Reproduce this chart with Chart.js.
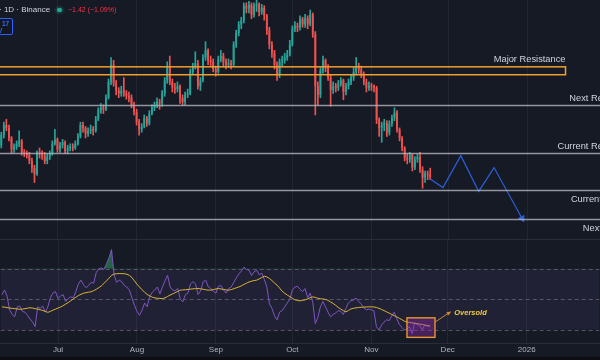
<!DOCTYPE html>
<html>
<head>
<meta charset="utf-8">
<script src="https://cdn.jsdelivr.net/npm/chart.js@4.4.1/dist/chart.umd.min.js"></script>
<style>
  html, body { margin: 0; padding: 0; background: #161a25; }
  #wrap { position: relative; width: 600px; height: 360px; overflow: hidden; background: #161a25;
          font-family: "Liberation Sans", Arial, sans-serif; }
  #priceCanvas { position: absolute; left: 0; top: 0; }
  #rsiCanvas { position: absolute; left: 0; top: 240px; }
  .sep { position: absolute; left: 0; top: 239px; width: 600px; height: 1px; background: #2a2e39; }
  .foot { position: absolute; left: 0; top: 357px; width: 600px; height: 3px; background: #0b0d12; }
  .hdr { position: absolute; left: -1px; top: 5px; font-size: 8px; color: #d1d4dc; white-space: nowrap; }
  .dot { position: absolute; left: 57px; top: 7.5px; width: 4.5px; height: 4.5px; border-radius: 50%;
         background: #22ab94; box-shadow: 0 0 3px 1px rgba(34,171,148,0.45); }
  .chg { position: absolute; left: 68px; top: 6px; font-size: 7px; color: #f23645; white-space: nowrap; }
  .tag { position: absolute; left: -2px; top: 18px; width: 13px; height: 15px; border: 1px solid #2962ff;
         border-radius: 2px; background: #131722; }
  .tag span { position: absolute; font-size: 6.5px; font-weight: bold; color: #2f6bff; }
</style>
</head>
<body>
<div id="wrap">
  <canvas id="priceCanvas" width="600" height="240"></canvas>
  <canvas id="rsiCanvas" width="600" height="120"></canvas>
  <div class="sep"></div>
  <div class="foot"></div>
  <div class="hdr">· 1D · Binance</div>
  <div class="dot"></div>
  <div class="chg">−1.42 (−1.09%)</div>
  <div class="tag"><span style="left:3px;top:1px">17</span><span style="left:-1px;top:8px">V</span></div>
</div>
<script>
// daily candles, SOL/USDT 1D, 2025-06-09 .. 2025-11-24
const dayCount = 235;
const labels = [];
for (let i = 0; i < dayCount; i++) {
    labels.push(new Date(Date.UTC(2025, 5, 9 + i)).toISOString().slice(0, 10));
}

const tickDates = ['2025-07-01', '2025-08-01', '2025-09-01', '2025-10-01', '2025-11-01', '2025-12-01', '2026-01-01'];
const tickLabels = ['Jul', 'Aug', 'Sep', 'Oct', 'Nov', 'Dec', '2026'];

const firstOpen = 152;
const closes = [
    159, 166, 164, 157, 149, 151, 153, 155, 147, 146,
    145, 141, 136, 132, 147, 146, 145, 141, 144, 146,
    153, 156, 149, 152, 154, 148, 150, 151, 150, 153,
    158, 166, 164, 160, 162, 163, 162, 170, 176, 178,
    177, 185, 196, 208, 195, 190, 188, 190, 188, 186,
    185, 180, 175, 168, 163, 165, 171, 167, 174, 178,
    180, 182, 181, 188, 197, 207, 196, 192, 191, 193,
    185, 182, 187, 188, 203, 207, 209, 193, 197, 213,
    218, 211, 210, 205, 203, 212, 214, 210, 208, 209,
    208, 222, 230, 236, 239, 249, 247, 249.5, 242.6, 249,
    250, 244.7, 247.5, 242, 232, 222, 216, 208, 201, 210,
    211, 213, 215, 222, 233, 235, 234, 240, 236, 240.5,
    236, 243, 229, 193, 187, 204, 211, 206, 199, 190.5,
    193, 192, 194.7, 197, 189, 193, 196, 199, 203, 206.5,
    204.4, 201, 196, 192, 193.3, 192.6, 192, 169.7, 164, 166,
    167.6, 160.7, 167, 171, 174.6, 162.8, 157, 150, 143, 142,
    145.4, 136.4, 142, 144, 135, 129.5, 132.2, 131.5, 130
];
const highs = [
    161, 168, 170, 166, 158, 153, 155, 162, 156, 149,
    148, 147, 143, 138, 148, 150, 148, 147, 146, 148,
    155, 163, 157, 154, 156, 155, 152, 153, 153, 155,
    160, 168, 168, 165, 164, 166, 165, 172, 178, 181,
    180, 187, 198, 213, 211, 197, 192, 193, 199, 190,
    189, 187, 182, 177, 170, 167, 173, 172, 176, 180,
    182, 185, 184, 190, 199, 210, 214, 198, 195, 196,
    194, 187, 189, 191, 205, 209, 217, 211, 199, 215,
    224, 219, 214, 212, 207, 214, 218, 216, 212, 212,
    211, 224, 232, 238, 241, 251, 251, 252, 251, 251,
    253, 251, 250, 249, 243, 234, 224, 218, 210, 212,
    214, 216, 218, 225, 235, 238, 237, 242, 241, 243,
    242, 246, 244, 231, 196, 206, 214, 212, 208, 201,
    196, 195, 197, 199, 198, 195, 198, 201, 206, 213,
    209, 207, 203, 198, 196, 195, 194, 193, 171, 168,
    170, 169, 169, 173, 178, 176, 164, 158, 151, 146,
    147, 146, 144, 146, 147, 137, 134, 134, 136
];
const lows = [
    150, 157, 162, 155, 146, 147, 149, 151, 145, 144,
    143, 139, 133, 126, 131, 143, 142, 139, 139, 142,
    145, 152, 147, 147, 150, 146, 146, 148, 148, 149,
    152, 157, 161, 157, 158, 160, 159, 161, 169, 174,
    174, 176, 184, 194, 193, 187, 185, 186, 186, 184,
    182, 178, 173, 166, 159, 161, 164, 165, 166, 173,
    176, 178, 177, 179, 186, 195, 194, 189, 188, 189,
    181, 180, 180, 185, 187, 201, 205, 191, 190, 196,
    211, 208, 207, 203, 200, 202, 210, 207, 205, 206,
    205, 207, 220, 228, 233, 237, 244, 244, 240, 241,
    245, 242, 243, 239, 229, 219, 213, 205, 197, 199,
    207, 209, 211, 214, 221, 231, 231, 232, 234, 234,
    233, 235, 227, 173, 180, 185, 202, 203, 197, 179,
    188, 189, 190, 193, 183.6, 187, 191, 194, 197, 201,
    202, 199, 194, 189, 190, 190, 189, 167, 158, 154,
    162, 158, 159, 165, 169, 161, 155, 148, 141, 139,
    140, 134, 135, 140, 133, 122, 126, 128, 128
];

const rsi = [
    53, 56, 52, 43, 40, 38.5, 45, 45.5, 42, 41.5,
    39.5, 37, 35, 32, 45, 44, 45.5, 41.5, 45, 51,
    54, 55, 50.5, 52, 53, 48.5, 50.5, 51.5, 51, 55,
    60, 62.5, 59.5, 57.5, 59, 61, 60.5, 67.5, 70, 70.5,
    69.5, 73, 77, 82.5, 66, 61, 62.5, 61.5, 59, 58,
    56, 51, 46, 42, 39.5, 43, 47.5, 45, 52, 54.5,
    56, 58, 53.5, 58, 62, 65.7, 58, 56, 55.5, 57,
    50, 48.3, 53, 54, 60, 61.5, 60, 53, 55.5, 61.5,
    62.5, 58, 57, 55, 54, 58.5, 59, 56, 54, 57,
    58, 61, 64, 66.5, 68.5, 71, 69.5, 69, 65.5, 68,
    69, 66, 67, 63, 58, 47, 44, 39, 36.5, 41.5,
    42.5, 45, 47.5, 50, 56, 58, 58.5, 56.5, 55, 57,
    51, 54, 48, 34, 38, 45, 48.5, 45, 41.5, 38.5,
    40, 41, 42.5, 42, 40, 44, 47.5, 49, 49.5, 50.8,
    48.5, 47, 44.5, 43, 43.5, 43, 42.5, 32, 29.8, 33,
    35, 36.5, 36, 39, 41.5, 37, 33.5, 31.5, 29.8, 30.5,
    32, 27.5, 34.5, 33.5, 32.5, 30, 33, 32.5, 32
];
const rsiMa = [
    45, 44.8, 44.5, 44.2, 44, 43.8, 43.6, 43.4, 43.5, 43.8,
    44.1, 44.4, 44.2, 43.8, 43.5, 43.1, 42.6, 42, 41.4, 42,
    42.8, 43.5, 44.2, 44.9, 45.8, 46.8, 47.8, 49, 50.2, 51.3,
    52.4, 53.2, 53.9, 54.3, 54.6, 54.9, 55.6, 56.5, 57.6, 58.7,
    60.3, 62, 63.8, 65.6, 66.5, 66.7, 66.8, 66.8, 66.7, 66.4,
    65.6, 64.2, 62, 59.8, 58, 56.2, 54.5, 53.1, 52.2, 51.3,
    50.9, 50.6, 50.5, 50.4, 50.9, 51.8, 52.7, 53.5, 54.3, 55.1,
    55.9, 56.1, 56.2, 56.4, 56.6, 56.8, 56.9, 57, 56.8, 56.5,
    56.2, 55.9, 56, 56.3, 56.7, 57, 56.7, 56.4, 56.1, 55.9,
    56.3, 56.9, 57.5, 58, 58.8, 59.7, 60.5, 61.3, 61.8, 62.2,
    62.5, 63.3, 64.2, 65.1, 64.6, 63.6, 62.2, 60.6, 59.2, 57.3,
    55.2, 53.9, 52.7, 51.7, 50.6, 49.6, 49.2, 48.9, 49.2, 49.6,
    50.2, 51, 51.5, 51.2, 50.6, 50.3, 50.1, 49.9, 49.2, 48.2,
    47.2, 46, 44.6, 43.5, 42.5, 41.7, 42.6, 43.6, 44.1, 44.3,
    44.6, 44.7, 44.8, 44.9, 45, 45, 44.9, 44.6, 44, 43.3,
    42.5, 41.7, 40.9, 40, 39.2, 38.4, 37.5, 36.6, 35.6, 35,
    34.8, 34.5, 34.2, 34, 33.7, 33.4, 33.1, 32.7, 32.5
];

// drawn projection path
const projDates = ['2025-11-24', '2025-11-29', '2025-12-06', '2025-12-13', '2025-12-19', '2025-12-30'];
const projValues = [128.5, 122.5, 144.7, 119.8, 136.4, 101];

// support / resistance levels
const majorZone = [201, 206.5];
const majorZoneEnd = '2026-01-16';
const levelNames = ['Next Resistance', 'Current Resistance', 'Current Support', 'Next Support'];
const levelValues = [180, 146.8, 120.5, 100.4];
const levelSides = ['above', 'above', 'below', 'below'];

// RSI guides and the oversold note
const rsiBand = [30, 70];
const rsiGuides = [70, 50, 30];
const oversoldFrom = '2025-11-15';
const oversoldTo = '2025-11-26';
const oversoldRange = [25, 37.8];
const noteArrow = [35, 41.6];
const noteDate = '2025-12-02';

const UP = '#26a69a';
const DOWN = '#ef5350';
const FONT = '"Liberation Sans", Arial, sans-serif';

const opens = closes.map((c, i) => (i === 0 ? firstOpen : closes[i - 1]));
const candleColors = closes.map((c, i) => (c >= opens[i] ? UP : DOWN));
const bodies = closes.map((c, i) => [opens[i], c]);
const wicks = closes.map((c, i) => [lows[i], highs[i]]);
const projection = projDates.map((d, i) => ({ x: d, y: projValues[i] }));

const monthGrid = c => (tickDates.includes(labels[c.index]) ? '#222633' : 'transparent');

const levelsPlugin = {
    id: 'levels',
    afterDatasetsDraw(chart) {
        const { ctx, chartArea: area, scales: { x, y } } = chart;
        const labelRight = x.getPixelForValue(dayCount + 14);
        ctx.save();
        ctx.font = `9.3px ${FONT}`;
        ctx.fillStyle = '#d1d4dc';
        ctx.textAlign = 'right';

        levelValues.forEach((v, k) => {
            const py = Math.round(y.getPixelForValue(v)) + 0.5;
            ctx.strokeStyle = 'rgba(178,181,190,0.8)';
            ctx.lineWidth = 1.3;
            ctx.beginPath();
            ctx.moveTo(area.left, py);
            ctx.lineTo(area.right, py);
            ctx.stroke();
            ctx.fillText(levelNames[k], labelRight, levelSides[k] === 'above' ? py - 5 : py + 11.5);
        });

        const zTop = y.getPixelForValue(majorZone[1]);
        const zBot = y.getPixelForValue(majorZone[0]);
        const zRight = x.getPixelForValue(labels.indexOf(majorZoneEnd));
        ctx.strokeStyle = '#f0a02e';
        ctx.lineWidth = 1.5;
        ctx.strokeRect(area.left - 3, zTop, zRight - area.left + 3, zBot - zTop);
        ctx.fillText('Major Resistance', zRight, zTop - 4.5);
        ctx.restore();
    }
};

new Chart(document.getElementById('priceCanvas'), {
    type: 'bar',
    data: {
        labels,
        datasets: [
            {
                label: 'Wicks', data: wicks, backgroundColor: candleColors,
                barThickness: 1, grouped: false, order: 2
            },
            {
                label: 'Bodies', data: bodies, backgroundColor: candleColors,
                barPercentage: 0.72, categoryPercentage: 1, grouped: false, order: 1
            },
            {
                type: 'line', label: 'Projection', data: projection,
                borderColor: '#2b5fd9', backgroundColor: '#2b5fd9', borderWidth: 1.2,
                pointRadius: c => (c.dataIndex === projValues.length - 1 ? 3.2 : 0),
                pointStyle: 'triangle', rotation: 151, order: 0
            }
        ]
    },
    options: {
        responsive: false,
        animation: false,
        devicePixelRatio: 1,
        events: [],
        layout: { padding: 0, autoPadding: false },
        plugins: { legend: { display: false }, tooltip: { enabled: false } },
        scales: {
            x: {
                offset: true,
                grid: { offset: false, color: monthGrid, drawTicks: false },
                border: { display: false },
                ticks: { display: false, autoSkip: false },
                afterFit: s => { s.height = 0; }
            },
            y: { display: false, min: 86, max: 253 }
        }
    },
    plugins: [levelsPlugin]
});

const rsiPlugin = {
    id: 'rsiGuides',
    beforeDatasetsDraw(chart) {
        const { ctx, chartArea: a, scales: { y } } = chart;
        const top = y.getPixelForValue(rsiBand[1]);
        const bot = y.getPixelForValue(rsiBand[0]);
        ctx.save();
        ctx.fillStyle = 'rgba(126,87,194,0.11)';
        ctx.fillRect(a.left, top, a.right - a.left, bot - top);
        ctx.strokeStyle = 'rgba(120,123,134,0.6)';
        ctx.lineWidth = 1;
        ctx.setLineDash([4, 3]);
        rsiGuides.forEach(v => {
            const py = Math.round(y.getPixelForValue(v)) + 0.5;
            ctx.beginPath();
            ctx.moveTo(a.left, py);
            ctx.lineTo(a.right, py);
            ctx.stroke();
        });
        ctx.restore();
    },
    afterDatasetsDraw(chart) {
        const { ctx, scales: { x, y } } = chart;
        const bx1 = x.getPixelForValue(labels.indexOf(oversoldFrom));
        const bx2 = x.getPixelForValue(labels.indexOf(oversoldTo));
        const by1 = y.getPixelForValue(oversoldRange[1]);
        const by2 = y.getPixelForValue(oversoldRange[0]);
        ctx.save();
        ctx.fillStyle = 'rgba(150,45,180,0.38)';
        ctx.fillRect(bx1, by1, bx2 - bx1, by2 - by1);
        ctx.strokeStyle = '#e8962e';
        ctx.lineWidth = 1.4;
        ctx.strokeRect(bx1, by1, bx2 - bx1, by2 - by1);

        // arrow to the note
        const ax1 = bx2, ay1 = y.getPixelForValue(noteArrow[0]);
        const ax2 = x.getPixelForValue(labels.indexOf(noteDate)), ay2 = y.getPixelForValue(noteArrow[1]);
        const ang = Math.atan2(ay2 - ay1, ax2 - ax1);
        ctx.strokeStyle = '#c98a32';
        ctx.lineWidth = 1;
        ctx.beginPath();
        ctx.moveTo(ax1, ay1);
        ctx.lineTo(ax2, ay2);
        ctx.stroke();
        ctx.fillStyle = '#c98a32';
        ctx.beginPath();
        ctx.moveTo(ax2 + 1, ay2 - 0.5);
        ctx.lineTo(ax2 - 4 * Math.cos(ang - 0.5), ay2 - 4 * Math.sin(ang - 0.5));
        ctx.lineTo(ax2 - 4 * Math.cos(ang + 0.5), ay2 - 4 * Math.sin(ang + 0.5));
        ctx.closePath();
        ctx.fill();

        ctx.font = `italic bold 7.5px ${FONT}`;
        ctx.fillStyle = '#f2cc3a';
        ctx.textAlign = 'left';
        ctx.fillText('Oversold', ax2 + 4, ay2 + 3);
        ctx.restore();
    }
};

new Chart(document.getElementById('rsiCanvas'), {
    type: 'line',
    data: {
        labels,
        datasets: [
            {
                label: 'RSI-based MA', data: rsiMa, borderColor: '#d9b534', borderWidth: 1,
                pointRadius: 0, tension: 0, fill: false, order: 0
            },
            {
                label: 'RSI', data: rsi, borderColor: '#7e57c2', borderWidth: 1,
                pointRadius: 0, tension: 0, order: 1,
                fill: { target: { value: 70 }, above: 'rgba(46,160,90,0.55)', below: 'transparent' }
            },
            {
                label: 'RSI low', data: rsi, borderColor: 'transparent', borderWidth: 0,
                pointRadius: 0, tension: 0, order: 2,
                fill: { target: { value: 30 }, above: 'transparent', below: 'rgba(242,54,69,0.35)' }
            }
        ]
    },
    options: {
        responsive: false,
        animation: false,
        devicePixelRatio: 1,
        events: [],
        layout: { padding: 0, autoPadding: false },
        plugins: { legend: { display: false }, tooltip: { enabled: false } },
        scales: {
            x: {
                offset: true,
                grid: { offset: false, color: monthGrid, drawTicks: false },
                border: { display: true, color: '#2a2e39' },
                ticks: {
                    autoSkip: false, maxRotation: 0, padding: 2,
                    color: '#b2b5be', font: { size: 8, family: FONT },
                    callback: (v, i) => {
                        const k = tickDates.indexOf(labels[i]);
                        return k >= 0 ? tickLabels[k] : '';
                    }
                },
                afterFit: s => { s.height = 17; }
            },
            y: { display: false, min: 21.3, max: 88.8 }
        }
    },
    plugins: [rsiPlugin]
});
</script>
</body>
</html>
